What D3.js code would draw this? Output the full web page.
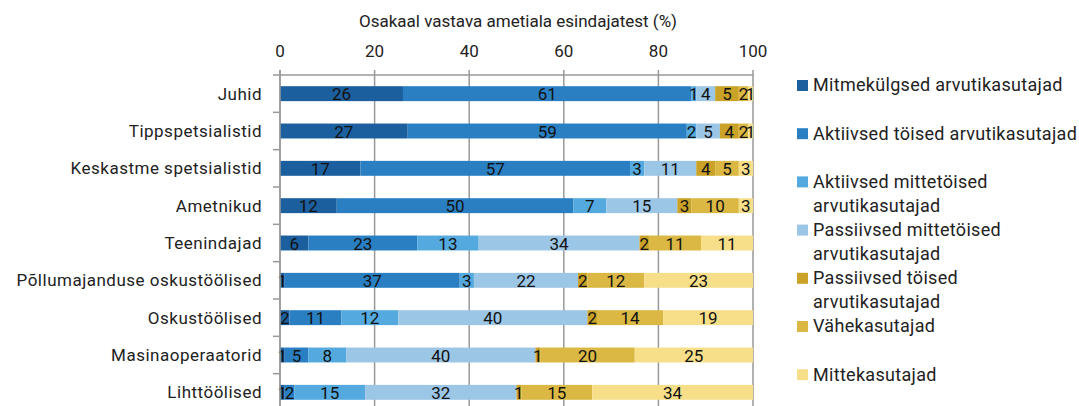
<!DOCTYPE html>
<html>
<head>
<meta charset="utf-8">
<script src="https://cdn.jsdelivr.net/npm/d3@7"></script>
<style>
  body { margin: 0; background: #fff; }
  text { font-family: Roboto, "Noto Sans", sans-serif; }
</style>
</head>
<body>
<div id="chart"></div>
<script>
var categories = ["Juhid", "Tippspetsialistid", "Keskastme spetsialistid", "Ametnikud", "Teenindajad",
  "Põllumajanduse oskustöölised", "Oskustöölised", "Masinaoperaatorid", "Lihttöölised"];

var seriesNames = [
  ["Mitmekülgsed arvutikasutajad"],
  ["Aktiivsed töised arvutikasutajad"],
  ["Aktiivsed mittetöised", "arvutikasutajad"],
  ["Passiivsed mittetöised", "arvutikasutajad"],
  ["Passiivsed töised", "arvutikasutajad"],
  ["Vähekasutajad"],
  ["Mittekasutajad"]
];

var mitmekulgsed   = [26, 27, 17, 12, 6, 1, 2, 1, 1];
var aktiivsedToised = [61, 59, 57, 50, 23, 37, 11, 5, 2];
var aktiivsedMitte  = [1, 2, 3, 7, 13, 3, 12, 8, 15];
var passiivsedMitte = [4, 5, 11, 15, 34, 22, 40, 40, 32];
var passiivsedToised = [5, 4, 4, 3, 2, 2, 2, 1, 1];
var vahekasutajad  = [2, 2, 5, 10, 11, 12, 14, 20, 15];
var mittekasutajad = [1, 1, 3, 3, 11, 23, 19, 25, 34];

var xTicks = [0, 20, 40, 60, 80, 100];
var colours = ["#1c5f9e", "#2a7fc3", "#54aade", "#9cc6e6", "#c9a227", "#dab843", "#f7df8a"];

var allSeries = [mitmekulgsed, aktiivsedToised, aktiivsedMitte, passiivsedMitte, passiivsedToised, vahekasutajad, mittekasutajad];

var width = 1079, height = 406;
var margin = { top: 75, left: 280, right: 326, bottom: -5 };

var svg = d3.select("#chart").append("svg")
  .attr("width", width)
  .attr("height", height);

var xScale = d3.scaleLinear().domain([0, 100]).range([margin.left, width - margin.right]);
var yScale = d3.scaleBand().domain(categories).range([margin.top, height - margin.bottom]).paddingInner(0.6).paddingOuter(0.3);

var rows = categories.map(function(c, i) {
  var row = { cat: c };
  allSeries.forEach(function(s, j) { row["s" + j] = s[i]; });
  return row;
});
var keys = allSeries.map(function(s, j) { return "s" + j; });
var stacked = d3.stack().keys(keys)(rows);

// gridlines
svg.append("g")
  .selectAll("line")
  .data(xTicks)
  .enter().append("line")
  .attr("x1", function(d) { return xScale(d); })
  .attr("x2", function(d) { return xScale(d); })
  .attr("y1", margin.top - 5)
  .attr("y2", height)
  .attr("stroke", "#999")
  .attr("stroke-width", 1.5);

// top axis line
svg.append("line")
  .attr("x1", margin.left - 7)
  .attr("x2", xScale(100))
  .attr("y1", margin.top)
  .attr("y2", margin.top)
  .attr("stroke", "#999")
  .attr("stroke-width", 1.5);

// tick labels on top
svg.append("g")
  .selectAll("text")
  .data(xTicks)
  .enter().append("text")
  .attr("x", function(d) { return xScale(d); })
  .attr("y", 57)
  .attr("text-anchor", "middle")
  .attr("font-size", "17px")
  .attr("fill", "#222")
  .text(function(d) { return d; });

svg.append("text")
  .attr("x", 518)
  .attr("y", 27)
  .attr("text-anchor", "middle")
  .attr("font-size", "17px")
  .attr("fill", "#222")
  .text("Osakaal vastava ametiala esindajatest (%)");

// left axis ticks between categories
var step = yScale.step();
var boundaries = d3.range(categories.length + 1).map(function(i) { return margin.top + i * step; });
svg.append("g")
  .selectAll("line")
  .data(boundaries.slice(1))
  .enter().append("line")
  .attr("x1", margin.left - 7)
  .attr("x2", margin.left)
  .attr("y1", function(d) { return d; })
  .attr("y2", function(d) { return d; })
  .attr("stroke", "#999")
  .attr("stroke-width", 1.5);

// category labels
svg.append("g")
  .selectAll("text")
  .data(categories)
  .enter().append("text")
  .attr("x", margin.left - 18)
  .attr("y", function(d) { return yScale(d) + yScale.bandwidth() / 2; })
  .attr("dy", "0.35em")
  .attr("text-anchor", "end")
  .attr("font-size", "17px")
  .attr("letter-spacing", "0.5px")
  .attr("fill", "#222")
  .text(function(d) { return d; });

// bars
var layers = svg.append("g")
  .selectAll("g")
  .data(stacked)
  .enter().append("g")
  .attr("fill", function(d, i) { return colours[i]; });

layers.selectAll("rect")
  .data(function(d) { return d; })
  .enter().append("rect")
  .attr("x", function(d) { return xScale(d[0]); })
  .attr("width", function(d) { return xScale(d[1]) - xScale(d[0]); })
  .attr("y", function(d) { return yScale(d.data.cat); })
  .attr("height", yScale.bandwidth());

// bar labels
layers.selectAll("text")
  .data(function(d) { return d; })
  .enter().append("text")
  .attr("x", function(d) { return (xScale(d[0]) + xScale(d[1])) / 2; })
  .attr("y", function(d) { return yScale(d.data.cat) + yScale.bandwidth() / 2; })
  .attr("dy", "0.4em")
  .attr("text-anchor", "middle")
  .attr("font-size", "17px")
  .attr("fill", "#111")
  .text(function(d) { return d[1] - d[0]; });

// left axis line
svg.append("line")
  .attr("x1", margin.left)
  .attr("x2", margin.left)
  .attr("y1", margin.top - 5)
  .attr("y2", height)
  .attr("stroke", "#999")
  .attr("stroke-width", 1.5);

// legend
var legend = svg.append("g")
  .selectAll("g")
  .data(seriesNames)
  .enter().append("g")
  .attr("transform", function(d, i) { return "translate(797," + (85 + i * 48.2) + ")"; });

legend.append("rect")
  .attr("x", 0)
  .attr("y", -5)
  .attr("width", 11)
  .attr("height", 11)
  .attr("fill", function(d, i) { return colours[i]; });

legend.append("text")
  .attr("x", 16)
  .attr("y", 0)
  .attr("font-size", "18px")
  .attr("letter-spacing", "0.3px")
  .attr("fill", "#222")
  .selectAll("tspan")
  .data(function(d) { return d; })
  .enter().append("tspan")
  .attr("x", 16)
  .attr("dy", function(d, i) { return i === 0 ? "0.35em" : "24px"; })
  .text(function(d) { return d; });
</script>
</body>
</html>
